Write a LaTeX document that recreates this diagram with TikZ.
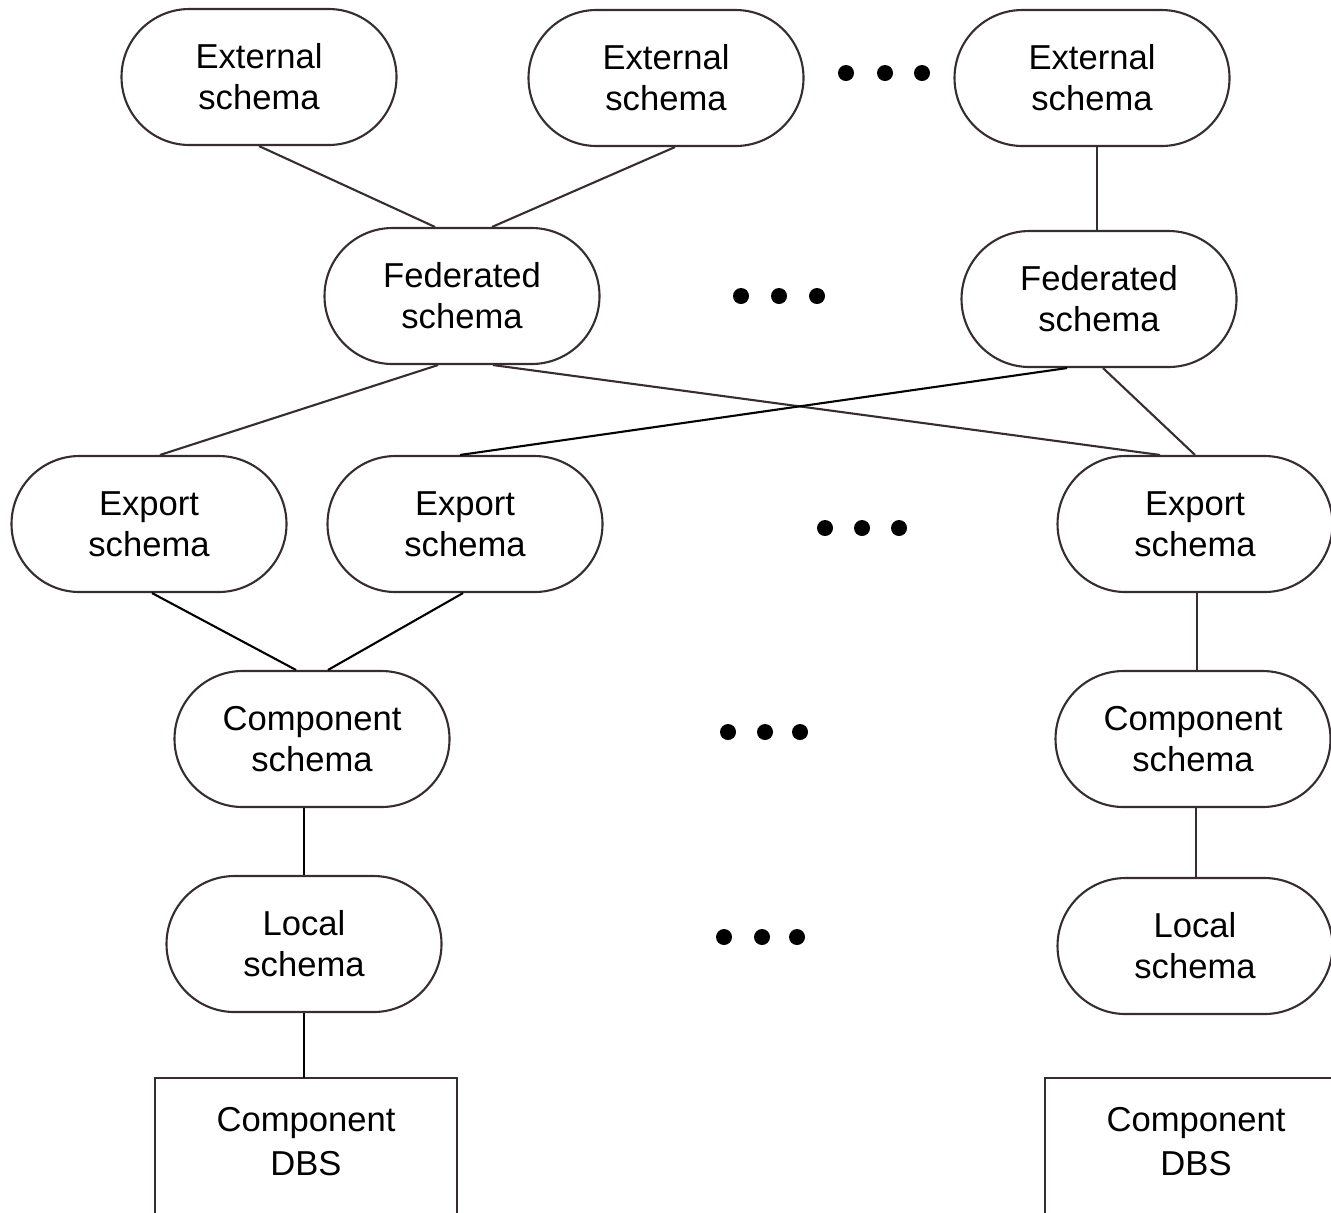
\documentclass[tikz,border=0pt]{standalone}
\usepackage{fontspec}
\setmainfont{Liberation Sans}
\usetikzlibrary{calc}
\definecolor{lc}{HTML}{382C33}
\begin{document}
\begin{tikzpicture}[x=0.5pt,y=-0.5pt,
  sch/.style={draw=lc, line width=1.05pt, rounded corners=34pt,
    minimum width=137.5pt, minimum height=68pt, inner sep=0pt,
    align=center, font=\fontsize{17.3}{20.5}\selectfont},
  dbs/.style={inner sep=0pt, minimum width=151pt, minimum height=64pt,
    align=center, font=\fontsize{17.3}{22}\selectfont},
  conn/.style={draw=lc, line width=1.05pt},
  connk/.style={draw=black, line width=1.05pt},
  dot/.style={fill=black, draw=none}]
\useasboundingbox (0,0) rectangle (1331,1212);
\clip (0,0) rectangle (1331,1212);
\fill[white] (0,0) rectangle (1331,1212);

% schema nodes
\node[sch] (ext1) at (259,77) {External\\schema};
\node[sch] (ext2) at (666,78) {External\\schema};
\node[sch] (ext3) at (1092,78) {External\\schema};
\node[sch] (fed1) at (462,296) {Federated\\schema};
\node[sch] (fed2) at (1099,299) {Federated\\schema};
\node[sch] (exp1) at (149,524) {Export\\schema};
\node[sch] (exp2) at (465,524) {Export\\schema};
\node[sch] (exp3) at (1195,524) {Export\\schema};
\node[sch] (comp1) at (312,739) {Component\\schema};
\node[sch] (comp2) at (1193,739) {Component\\schema};
\node[sch] (loc1) at (304,944) {Local\\schema};
\node[sch] (loc2) at (1195,946) {Local\\schema};

% component DBS boxes (open at the bottom, cut by the frame)
\node[dbs] (dbs1) at (306,1142) {Component\\DBS};
\node[dbs] (dbs2) at (1196,1142) {Component\\DBS};
\draw[conn] ($(dbs1.south west)+(0,30)$) -- (dbs1.north west) -- (dbs1.north east) -- ($(dbs1.south east)+(0,30)$);
\draw[conn] ($(dbs2.south west)+(0,30)$) -- (dbs2.north west) -- (dbs2.north east) -- ($(dbs2.south east)+(0,30)$);

% connectors
\draw[conn] (ext1.south) -- ($(fed1.north)+(-27,0)$);
\draw[conn] ($(ext2.south)+(9,0)$) -- ($(fed1.north)+(30,0)$);
\draw[conn] ($(ext3.south)+(5,0)$) -- ($(fed2.north)+(-2,0)$);
\draw[conn] ($(fed1.south)+(-24,0)$) -- ($(exp1.north)+(11,0)$);
\draw[conn] ($(fed1.south)+(31,0)$) -- ($(exp3.north)+(-35,0)$);
\draw[connk] ($(fed2.south)+(-32,0)$) -- ($(exp2.north)+(-5,0)$);
\draw[conn] ($(fed2.south)+(4,0)$) -- ($(exp3.north)+(0,0)$);
\draw[connk] ($(exp1.south)+(3,0)$) -- ($(comp1.north)+(-16,0)$);
\draw[connk] ($(exp2.south)+(-2,0)$) -- ($(comp1.north)+(16,0)$);
\draw[conn] ($(exp3.south)+(2,0)$) -- ($(comp2.north)+(4,0)$);
\draw[connk] ($(comp1.south)+(-8,0)$) -- (loc1.north);
\draw[conn] ($(comp2.south)+(3,0)$) -- ($(loc2.north)+(1,0)$);
\draw[connk] (loc1.south) -- (loc1.south |- dbs1.north);
\draw[conn] ($(loc2.south)+(1,0)$) -- ($(loc2.south)+(1,0)$ |- dbs2.north);

% ellipsis dots
\foreach \x/\y in {846/73,885/73,922/73,
                   741/296,779/296,817/296,
                   825/528,862/528,899/528,
                   728/732,765/732,800/732,
                   724/937,762/937,797/937}
  \fill[dot] (\x,\y) circle (4pt);
\end{tikzpicture}
\end{document}
